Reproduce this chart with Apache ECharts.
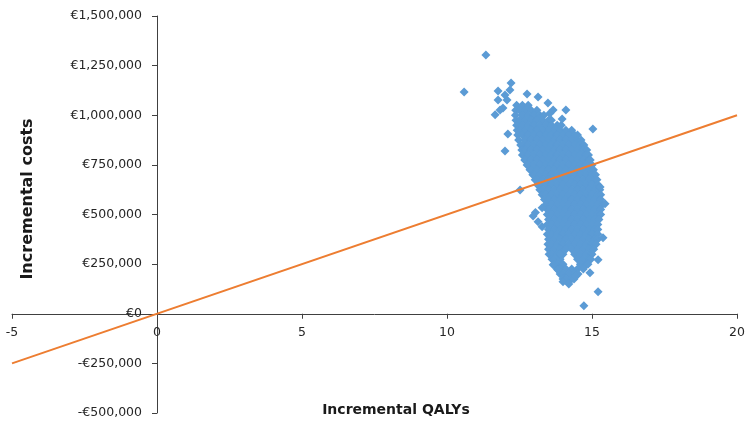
<!DOCTYPE html>
<html><head><meta charset="utf-8">
<script src="https://cdn.jsdelivr.net/npm/echarts@6/dist/echarts.min.js"></script>
<style>html,body{margin:0;padding:0;background:#fff}#c{width:745px;height:423px}</style>
</head><body><div id="c"></div>
<script>
// Axis ranges / ticks
const xTickValues = [-5, 0, 5, 10, 15, 20];
const yTickValues = [-500000, -250000, 0, 250000, 500000, 750000, 1000000, 1250000, 1500000];

// Willingness-to-pay threshold line (QALYs, costs)
const thresholdLine = [[-5, -250000], [20, 1000000]];

// Scattered outlying simulations [QALYs, costs]
const outlierPoints = [
  [11.34, 1304000], [10.59, 1117000], [12.21, 1163000], [11.76, 1122000], [12.17, 1127000],
  [11.76, 1077000], [12.07, 1077000], [11.93, 1037000], [11.66, 1002000], [11.83, 1027000],
  [12.0, 1102000], [12.76, 1107000], [13.14, 1092000], [13.48, 1062000], [13.66, 1027000],
  [14.1, 1027000], [13.97, 981000], [13.55, 1010000], [12.1, 906000], [12.0, 820000],
  [15.03, 931000], [12.52, 624000], [13.28, 534000], [12.97, 493000], [13.05, 510000],
  [13.28, 438000], [13.14, 463000], [15.28, 639000], [15.45, 554000], [15.38, 383000],
  [15.21, 272000], [14.93, 206000], [15.21, 111000], [14.72, 40000], [13.66, 247000],
  [13.83, 221000], [14.0, 161000], [14.2, 150000], [14.45, 190000], [13.9, 300000]
];

// Dense core of simulations: [costs, [QALY values at that cost level]]
const cloudRows = [
  [1050000, [12.4, 12.6, 12.8]],
  [1025000, [12.37, 12.5, 12.7, 12.9, 13.1]],
  [1000000, [12.36, 12.6, 12.8, 13.0, 13.2, 13.34]],
  [975000,  [12.38, 12.5, 12.7, 12.9, 13.1, 13.3, 13.5, 13.6]],
  [950000,  [12.4, 12.6, 12.8, 13.0, 13.2, 13.4, 13.6, 13.8, 13.94]],
  [925000,  [12.42, 12.5, 12.7, 12.9, 13.1, 13.3, 13.5, 13.7, 13.9, 14.1, 14.3]],
  [900000,  [12.44, 12.6, 12.8, 13.0, 13.2, 13.4, 13.6, 13.8, 14.0, 14.2, 14.4, 14.5]],
  [875000,  [12.47, 12.7, 12.9, 13.1, 13.3, 13.5, 13.7, 13.9, 14.1, 14.3, 14.5, 14.62]],
  [850000,  [12.54, 12.6, 12.8, 13.0, 13.2, 13.4, 13.6, 13.8, 14.0, 14.2, 14.4, 14.6, 14.72]],
  [825000,  [12.58, 12.7, 12.9, 13.1, 13.3, 13.5, 13.7, 13.9, 14.1, 14.3, 14.5, 14.7, 14.82]],
  [800000,  [12.6, 12.8, 13.0, 13.2, 13.4, 13.6, 13.8, 14.0, 14.2, 14.4, 14.6, 14.8, 14.88]],
  [775000,  [12.68, 12.7, 12.9, 13.1, 13.3, 13.5, 13.7, 13.9, 14.1, 14.3, 14.5, 14.7, 14.9, 14.94]],
  [750000,  [12.76, 12.8, 13.0, 13.2, 13.4, 13.6, 13.8, 14.0, 14.2, 14.4, 14.6, 14.8, 15.0]],
  [725000,  [12.86, 12.9, 13.1, 13.3, 13.5, 13.7, 13.9, 14.1, 14.3, 14.5, 14.7, 14.9, 15.05]],
  [700000,  [12.96, 13.0, 13.2, 13.4, 13.6, 13.8, 14.0, 14.2, 14.4, 14.6, 14.8, 15.0, 15.12]],
  [675000,  [13.04, 13.1, 13.3, 13.5, 13.7, 13.9, 14.1, 14.3, 14.5, 14.7, 14.9, 15.1, 15.17]],
  [650000,  [13.12, 13.2, 13.4, 13.6, 13.8, 14.0, 14.2, 14.4, 14.6, 14.8, 15.0, 15.2]],
  [625000,  [13.2, 13.3, 13.5, 13.7, 13.9, 14.1, 14.3, 14.5, 14.7, 14.9, 15.1, 15.27]],
  [600000,  [13.28, 13.4, 13.6, 13.8, 14.0, 14.2, 14.4, 14.6, 14.8, 15.0, 15.2, 15.3]],
  [575000,  [13.36, 13.5, 13.7, 13.9, 14.1, 14.3, 14.5, 14.7, 14.9, 15.1, 15.3]],
  [550000,  [13.42, 13.6, 13.8, 14.0, 14.2, 14.4, 14.6, 14.8, 15.0, 15.2, 15.36]],
  [525000,  [13.46, 13.5, 13.7, 13.9, 14.1, 14.3, 14.5, 14.7, 14.9, 15.1, 15.3]],
  [500000,  [13.46, 13.6, 13.8, 14.0, 14.2, 14.4, 14.6, 14.8, 15.0, 15.2, 15.3]],
  [475000,  [13.5, 13.7, 13.9, 14.1, 14.3, 14.5, 14.7, 14.9, 15.1, 15.24]],
  [450000,  [13.46, 13.6, 13.8, 14.0, 14.2, 14.4, 14.6, 14.8, 15.0, 15.2]],
  [425000,  [13.5, 13.7, 13.9, 14.1, 14.3, 14.5, 14.7, 14.9, 15.1, 15.2]],
  [400000,  [13.46, 13.6, 13.8, 14.0, 14.2, 14.4, 14.6, 14.8, 15.0, 15.2]],
  [375000,  [13.5, 13.7, 13.9, 14.1, 14.3, 14.5, 14.7, 14.9, 15.1, 15.2]],
  [350000,  [13.48, 13.6, 13.8, 14.0, 14.2, 14.4, 14.6, 14.8, 15.0, 15.14]],
  [325000,  [13.5, 13.7, 13.9, 14.1, 14.3, 14.5, 14.7, 14.9, 15.06]],
  [300000,  [13.52, 13.6, 13.8, 14.0, 14.4, 14.6, 14.8, 15.0]],
  [275000,  [13.62, 13.7, 13.9, 14.5, 14.7, 14.9, 14.96]],
  [250000,  [13.7, 13.8, 14.0, 14.6, 14.8, 14.86]],
  [225000,  [13.8, 13.9, 14.1, 14.3, 14.5, 14.7]],
  [200000,  [13.9, 14.0, 14.2, 14.4, 14.52]],
  [175000,  [14.0, 14.1, 14.3, 14.38]]
];

const cloudPoints = [];
cloudRows.forEach(([cost, qalys]) => qalys.forEach(q => cloudPoints.push([q, cost])));

const fmtEuro = v => (v < 0 ? '-€' : '€') + Math.abs(v).toLocaleString('en-US');
const labelFont = { fontFamily: 'DejaVu Sans', fontSize: 12.5, color: '#262626' };
const axisColor = '#404040';

const el = document.getElementById('c');
const chart = echarts.init(el, null, { renderer: 'canvas' });

// Grid box; axes are shifted inward so that they cross at (0, 0)
const gridBox = { left: 12, right: 8, top: 16, bottom: 10 };
const xMin = xTickValues[0], xMax = xTickValues[xTickValues.length - 1];
const yMin = yTickValues[0], yMax = yTickValues[yTickValues.length - 1];
const plotW = chart.getWidth() - gridBox.left - gridBox.right;
const plotH = chart.getHeight() - gridBox.top - gridBox.bottom;
const xAxisOffset = -plotH * (0 - yMin) / (yMax - yMin);
const yAxisOffset = -plotW * (0 - xMin) / (xMax - xMin);

chart.setOption({
  animation: false,
  backgroundColor: '#fff',
  grid: { ...gridBox, outerBoundsMode: 'none' },
  xAxis: {
    type: 'value', min: xMin, max: xMax, interval: 5, offset: xAxisOffset,
    axisLine: { show: true, onZero: false, lineStyle: { color: axisColor, width: 1 } },
    axisTick: { show: true, length: 5, lineStyle: { color: axisColor } },
    axisLabel: { ...labelFont, margin: 12 },
    splitLine: { show: false }
  },
  yAxis: {
    type: 'value', min: yMin, max: yMax, interval: 250000, offset: yAxisOffset,
    axisLine: { show: true, onZero: false, lineStyle: { color: axisColor, width: 1 } },
    axisTick: { show: true, length: 5, lineStyle: { color: axisColor } },
    axisLabel: { ...labelFont, margin: 15, formatter: fmtEuro },
    splitLine: { show: false }
  },
  graphic: [
    { type: 'text', x: 396, y: 410, style: { text: 'Incremental QALYs', fill: '#1a1a1a',
      font: 'bold 14px "DejaVu Sans"', align: 'center', verticalAlign: 'middle' } },
    { type: 'text', x: 28, y: 199, rotation: Math.PI / 2, style: { text: 'Incremental costs', fill: '#1a1a1a',
      font: 'bold 16px "DejaVu Sans"', align: 'center', verticalAlign: 'middle' } }
  ],
  series: [
    { type: 'line', data: thresholdLine, symbol: 'none', silent: true,
      lineStyle: { color: '#ED7D31', width: 2 } },
    { type: 'scatter', data: cloudPoints.concat(outlierPoints),
      symbol: 'diamond', symbolSize: 9, itemStyle: { color: '#5B9BD5', opacity: 1 } }
  ]
});
</script></body></html>
